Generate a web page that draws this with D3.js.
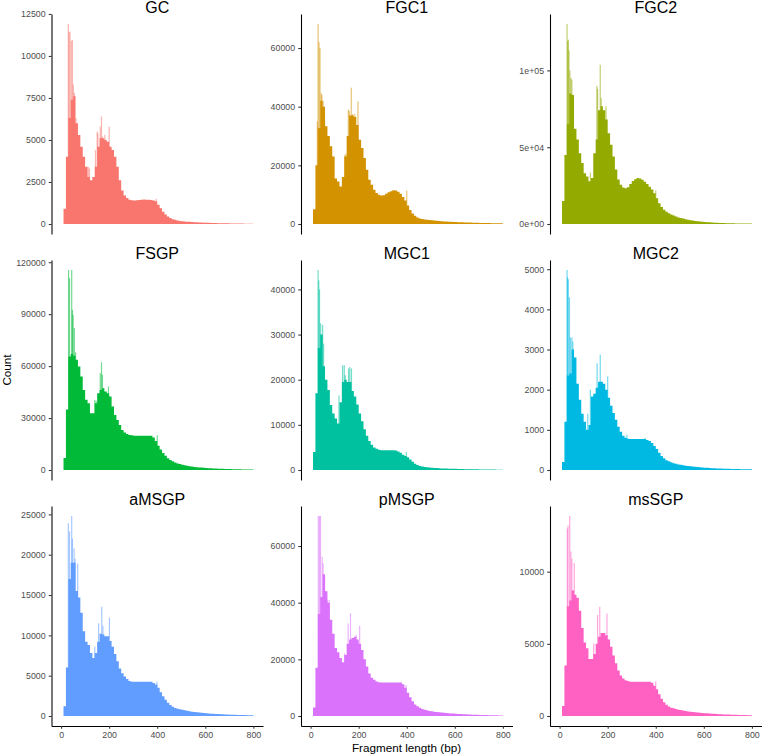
<!DOCTYPE html>
<html>
<head>
<meta charset="utf-8">
<script src="https://cdn.jsdelivr.net/npm/d3@7"></script>
<style>
  body { margin: 0; background: #fff; }
  svg text { font-family: "Liberation Sans", Arial, Helvetica, sans-serif; }
</style>
</head>
<body>
<div id="chart"></div>
<script>
// samples, in facet order
const samples = ['GC', 'FGC1', 'FGC2', 'FSGP', 'MGC1', 'MGC2', 'aMSGP', 'pMSGP', 'msSGP']

// fragment length bins (bp), 10 bp wide, 10 -> 800
const binWidth = 10
const binStarts = d3.range(10, 800, binWidth)

// counts per 10 bp bin (typical level of the 1 bp histogram in that bin)
const gcCounts = [900, 4000, 6300, 7400, 7600, 6000, 5300, 4600, 4000, 3400,
    2800, 2600, 2800, 3400, 4600, 5100, 5100, 5000, 4900, 4600,
    4400, 4000, 3400, 2600, 2000, 1700, 1550, 1450, 1420, 1400,
    1420, 1430, 1450, 1460, 1450, 1440, 1430, 1400, 1350, 1150,
    930, 730, 560, 440, 350, 290, 250, 210, 185,
    165, 150, 140, 128, 118, 108, 100, 93, 86, 80, 74, 69, 64, 59, 55, 51, 47, 44, 41, 38, 35, 32, 30, 28, 26, 24, 22, 20, 18, 17]
const fgc1Counts = [5000, 20000, 32700, 42000, 40000, 33300, 30000, 26500, 23000, 15500,
    14500, 12800, 16000, 23000, 30000, 37000, 37000, 36500, 33800, 28700,
    25900, 22500, 18500, 15100, 13400, 11700, 10600, 10000, 9700, 9800,
    10300, 10800, 11200, 11500, 11400, 11000, 10300, 9200, 8000, 6300,
    4800, 3600, 2800, 2200, 1900, 1700, 1550, 1450, 1350,
    1250, 1160, 1080, 1010, 950, 890, 840, 790, 740, 700, 660, 620, 590, 560, 530, 500, 470, 450, 420, 400, 380, 360, 340, 320, 300, 280, 265, 250, 235, 220]
const fgc2Counts = [15000, 45000, 65000, 85000, 84000, 62000, 55000, 46000, 39700, 33000,
    31000, 27800, 30000, 46000, 55000, 74000, 76600, 74000, 68000, 59000,
    51600, 44000, 35400, 28900, 25600, 23800, 23200, 23900, 26000, 28000,
    29200, 30000, 29700, 28800, 27500, 26000, 24200, 22500, 20000, 16800,
    13500, 11000, 9300, 8000, 7000, 6200, 5500, 4900, 4300,
    3900, 3500, 3100, 2800, 2500, 2250, 2000, 1800, 1600, 1450, 1300, 1180, 1070, 970, 880, 800, 730, 670, 610, 560, 510, 470, 430, 400, 370, 340, 310, 290, 270, 250]
const fsgpCounts = [7000, 35000, 65500, 67000, 66000, 63600, 59700, 54000, 46200, 40500,
    38500, 32800, 32800, 38500, 44300, 46200, 47200, 45300, 44300, 42400,
    36600, 31800, 28900, 26000, 23100, 21600, 20800, 20200, 20000, 19800,
    19800, 19800, 19800, 19800, 19800, 19800, 19800, 18800, 16800, 14000,
    11800, 9800, 8200, 6800, 5800, 5000, 4300, 3800, 3400,
    3000, 2700, 2400, 2200, 2000, 1800, 1650, 1500, 1380, 1270, 1170, 1080, 1000, 920, 850, 780, 720, 660, 610, 560, 520, 480, 440, 410, 380, 350, 320, 300, 280, 260]
const mgc1Counts = [4000, 17000, 27000, 30000, 23000, 20000, 17700, 14400, 12500, 11400,
    10300, 15000, 19500, 20000, 19500, 19500, 17500, 16300, 14500, 12500,
    10800, 9000, 7600, 6400, 5600, 5000, 4700, 4500, 4400, 4400,
    4400, 4400, 4400, 4400, 4300, 4100, 3800, 3400, 3100, 2800,
    2300, 1800, 1400, 1100, 900, 780, 680, 600, 540,
    490, 450, 420, 390, 360, 340, 320, 300, 280, 265, 250, 235, 220, 205, 190, 180, 170, 160, 150, 140, 130, 120, 112, 105, 98, 90, 84, 78, 72, 66]
const mgc2Counts = [200, 1200, 2350, 2400, 3000, 2800, 2150, 1750, 1400, 1200,
    1000, 1120, 1830, 1900, 2050, 2200, 2200, 2150, 2000, 1800,
    1600, 1420, 1250, 1080, 950, 850, 800, 780, 770, 770,
    770, 770, 770, 770, 780, 750, 720, 670, 600, 520,
    430, 350, 290, 245, 215, 190, 170, 155, 140,
    130, 118, 108, 100, 92, 85, 78, 72, 67, 62, 58, 54, 50, 46, 43, 40, 37, 35, 33, 31, 29, 27, 25, 24, 22, 21, 20, 19, 18, 17]
const amsgpCounts = [1200, 6000, 17000, 19000, 19000, 15500, 14700, 12800, 10500, 9200,
    8800, 7800, 7200, 7800, 9200, 10200, 10100, 9900, 9900, 9300,
    8600, 7700, 6800, 5900, 5300, 4900, 4600, 4350, 4250, 4250,
    4250, 4250, 4250, 4250, 4250, 4250, 4250, 4100, 3900, 3500,
    2950, 2450, 2000, 1650, 1350, 1150, 1000, 900, 830,
    760, 700, 640, 580, 530, 490, 450, 420, 400, 370, 340, 315, 290, 270, 250, 235, 220, 205, 190, 178, 166, 155, 145, 136, 128, 120, 113, 106, 100, 94]
const pmsgpCounts = [3000, 17000, 36000, 42000, 50000, 44000, 40000, 34000, 29000, 24000,
    22500, 20500, 19000, 21500, 25500, 27000, 27500, 28000, 27000, 25500,
    23300, 20000, 17500, 15000, 13500, 12800, 12200, 11900, 11800, 11800,
    11800, 11800, 11800, 11800, 11800, 11800, 11800, 11200, 10000, 8200,
    6600, 5200, 4100, 3400, 2900, 2500, 2200, 2000, 1800,
    1650, 1500, 1400, 1300, 1200, 1110, 1030, 960, 900, 840, 780, 730, 680, 630, 590, 550, 510, 475, 440, 410, 380, 355, 330, 310, 290, 270, 250, 235, 220, 205]
const mssgpCounts = [700, 3500, 7600, 8000, 8700, 8400, 8200, 7300, 6100, 5100,
    4700, 3950, 3950, 4300, 5000, 5500, 5750, 5750, 5600, 5300,
    4800, 4200, 3650, 3150, 2800, 2600, 2480, 2420, 2380, 2380,
    2380, 2380, 2380, 2380, 2380, 2380, 2380, 2300, 2100, 1850,
    1500, 1200, 950, 780, 660, 580, 530, 480, 440,
    410, 380, 350, 320, 295, 275, 255, 240, 225, 210, 195, 182, 170, 158, 148, 138, 129, 120, 112, 105, 98, 92, 86, 80, 75, 70, 66, 62, 58, 55]

// single 1 bp bins that stick out above the rest: [length, count]
const gcSpikes = [[30, 11900], [33, 11400], [37, 11450], [42, 10900], [47, 10950], [51, 8300], [55, 7800], [62, 6300],
    [113, 3400], [118, 3300], [143, 4400], [150, 5500], [153, 5400], [163, 5800], [168, 6400], [172, 5200], [182, 5300], [200, 5800], [396, 1500]]
const fgc1Spikes = [[28, 35000], [31, 68200], [35, 62000], [39, 60000], [44, 44700], [47, 44000], [52, 42000], [58, 35000],
    [143, 23500], [147, 24000], [157, 39000], [161, 38500], [169, 46500], [174, 37500], [184, 37500], [197, 41800], [400, 11400]]
const fgc2Spikes = [[31, 130200], [34, 119000], [36, 120000], [39, 113000], [43, 100000], [47, 95000], [51, 94000], [56, 81000],
    [128, 33500], [155, 90000], [158, 88000], [169, 103700], [173, 82000], [193, 76600], [400, 21900]]
const fsgpSpikes = [[31, 115500], [35, 110800], [44, 115500], [47, 92500], [50, 89600], [55, 82000], [60, 68000],
    [140, 40500], [146, 40000], [163, 55900], [168, 62200], [172, 55000], [197, 48200], [400, 20000]]
const mgc1Spikes = [[31, 44300], [34, 42000], [37, 40000], [42, 32500], [50, 32100], [54, 28000],
    [118, 16500], [133, 23200], [140, 23200], [144, 21000], [158, 22500], [163, 22800], [170, 22500], [398, 4000]]
const mgc2Spikes = [[31, 4980], [33, 4800], [36, 4750], [41, 4300], [45, 3300], [51, 3300], [55, 3200],
    [117, 1400], [128, 2000], [156, 2660], [169, 2870], [200, 2330], [280, 870]]
const amsgpSpikes = [[30, 23900], [35, 22900], [44, 24800], [47, 22000], [54, 20800], [58, 19500], [69, 18900],
    [118, 7700], [140, 8600], [156, 11500], [169, 13550], [174, 11200], [201, 12200], [399, 4250]]
const pmsgpSpikes = [[32, 70600], [37, 70600], [41, 70600], [48, 56200], [52, 53900], [58, 49200], [69, 41000], [77, 41000],
    [142, 22100], [156, 32700], [166, 36200], [190, 28600], [204, 31800], [397, 10900]]
const mssgpSpikes = [[32, 13000], [35, 13200], [42, 13860], [47, 11400], [51, 10900], [61, 10600],
    [142, 5030], [158, 7000], [167, 7570], [197, 7100], [400, 2400]]

// y tick values and labels per panel
const gcTicks = [0, 2500, 5000, 7500, 10000, 12500]
const fgc1Ticks = [0, 20000, 40000, 60000]
const fgc2Ticks = [0, 50000, 100000]
const fgc2TickLabels = ['0e+00', '5e+04', '1e+05']
const fsgpTicks = [0, 30000, 60000, 90000, 120000]
const mgc1Ticks = [0, 10000, 20000, 30000, 40000]
const mgc2Ticks = [0, 1000, 2000, 3000, 4000, 5000]
const amsgpTicks = [0, 5000, 10000, 15000, 20000, 25000]
const pmsgpTicks = [0, 20000, 40000, 60000]
const mssgpTicks = [0, 5000, 10000]
const xTicks = [0, 200, 400, 600, 800]

const palette = ['#F8766D', '#D39200', '#93AA00', '#00BA38', '#00C19F', '#00B9E3', '#619CFF', '#DB72FB', '#FF61C3']

const panels = [
    {name: 'GC', counts: gcCounts, spikes: gcSpikes, ticks: gcTicks},
    {name: 'FGC1', counts: fgc1Counts, spikes: fgc1Spikes, ticks: fgc1Ticks},
    {name: 'FGC2', counts: fgc2Counts, spikes: fgc2Spikes, ticks: fgc2Ticks, labels: fgc2TickLabels},
    {name: 'FSGP', counts: fsgpCounts, spikes: fsgpSpikes, ticks: fsgpTicks},
    {name: 'MGC1', counts: mgc1Counts, spikes: mgc1Spikes, ticks: mgc1Ticks},
    {name: 'MGC2', counts: mgc2Counts, spikes: mgc2Spikes, ticks: mgc2Ticks},
    {name: 'aMSGP', counts: amsgpCounts, spikes: amsgpSpikes, ticks: amsgpTicks},
    {name: 'pMSGP', counts: pmsgpCounts, spikes: pmsgpSpikes, ticks: pmsgpTicks},
    {name: 'msSGP', counts: mssgpCounts, spikes: mssgpSpikes, ticks: mssgpTicks}
]

// layout
const width = 763, height = 756
const colLeft = [51.5, 301, 550], rowTop = [14, 260, 506]
const panelW = 211.5, panelH = 220

const svg = d3.select('#chart')
    .append('svg')
    .attr('width', width)
    .attr('height', height)

const x = d3.scaleLinear().domain([-40, 840]).range([0, panelW])

panels.forEach((p, i) => {
    const col = i % 3, row = Math.floor(i / 3)
    const color = palette[i]
    const g = svg.append('g')
        .attr('transform', 'translate(' + colLeft[col] + ',' + rowTop[row] + ')')

    // ggplot style 5% expansion around the data
    const maxCount = Math.max(d3.max(p.counts), d3.max(p.spikes, d => d[1]))
    const y = d3.scaleLinear()
        .domain([-0.05 * maxCount, 1.05 * maxCount])
        .range([panelH, 0])

    // spikes behind the bars, lighter
    g.append('g')
        .selectAll('rect')
        .data(p.spikes)
        .join('rect')
        .attr('x', d => x(d[0]) - 0.6)
        .attr('width', 1.2)
        .attr('y', d => y(d[1]))
        .attr('height', d => y(0) - y(d[1]))
        .attr('fill', color)
        .attr('fill-opacity', 0.55)

    const bins = binStarts.map((b, k) => ({bp: b, n: p.counts[k]}))
    bins.push({bp: binStarts[binStarts.length - 1] + binWidth, n: p.counts[p.counts.length - 1]})

    const area = d3.area()
        .x(d => x(d.bp))
        .y0(y(0))
        .y1(d => y(d.n))
        .curve(d3.curveStepAfter)

    g.append('path')
        .datum(bins)
        .attr('d', area)
        .attr('fill', color)

    // y axis
    const yAxis = d3.axisLeft(y)
        .tickValues(p.ticks)
        .tickSize(2.75)
        .tickSizeOuter(0)
        .tickPadding(3.2)
        .tickFormat((d, k) => p.labels ? p.labels[k] : d3.format('d')(d))

    const ya = g.append('g').call(yAxis)
    ya.select('.domain').attr('stroke', '#000').attr('stroke-width', 1.07)
    ya.selectAll('.tick line').attr('stroke', '#333').attr('stroke-width', 1.07)
    ya.selectAll('.tick text').attr('fill', '#4D4D4D').style('font-size', '8.8px')

    // x axis only on bottom row
    if (row === 2) {
        const xAxis = d3.axisBottom(x)
            .tickValues(xTicks)
            .tickSize(2.75)
            .tickSizeOuter(0)
            .tickPadding(3.2)
        const xa = g.append('g')
            .attr('transform', 'translate(0,' + panelH + ')')
            .call(xAxis)
        xa.select('.domain').attr('stroke', '#000').attr('stroke-width', 1.07)
        xa.selectAll('.tick line').attr('stroke', '#333').attr('stroke-width', 1.07)
        xa.selectAll('.tick text').attr('fill', '#4D4D4D').style('font-size', '8.8px')
    }

    // facet title
    g.append('text')
        .attr('x', panelW / 2)
        .attr('y', -0.7)
        .attr('text-anchor', 'middle')
        .style('font-size', '16px')
        .attr('fill', '#000')
        .text(p.name)
})

svg.append('text')
    .attr('text-anchor', 'middle')
    .attr('transform', 'translate(10.5,370) rotate(-90)')
    .style('font-size', '11.7px')
    .text('Count')

svg.append('text')
    .attr('text-anchor', 'middle')
    .attr('x', 406.5)
    .attr('y', 751.5)
    .style('font-size', '11.7px')
    .text('Fragment length (bp)')
</script>
</body>
</html>
